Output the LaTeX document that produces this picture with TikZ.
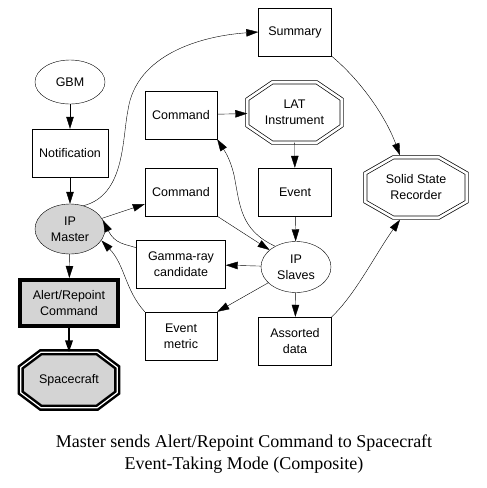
\documentclass[tikz,border=0pt]{standalone}
\usepackage{fontspec}
\setmainfont{Liberation Serif}
\newfontfamily\boxfont{Liberation Sans}
\usetikzlibrary{shapes.geometric,arrows.meta,calc,backgrounds}

\tikzset{
  box/.style={draw, rectangle, minimum width=72pt, minimum height=48pt, inner sep=0pt, align=center},
  oval/.style={draw, ellipse, minimum width=70pt, minimum height=50pt, inner sep=0pt, align=center},
  octbox/.style={rectangle, inner sep=0pt, align=center},
  octline/.style={double, double distance=2.6pt, line width=0.7pt},
  tip/.style={-{Triangle[length=12pt,width=7.5pt]}},
}
% octagon round a node: name, chamfer x, chamfer y, style
\newcommand\octagon[4]{%
  \draw[#4] ($(#1.north west)+(#2,0)$) -- ($(#1.north east)+(-#2,0)$)
    -- ($(#1.north east)+(0,#3)$) -- ($(#1.south east)+(0,-#3)$)
    -- ($(#1.south east)+(-#2,0)$) -- ($(#1.south west)+(#2,0)$)
    -- ($(#1.south west)+(0,-#3)$) -- ($(#1.north west)+(0,#3)$) -- cycle;}

\begin{document}
\begin{tikzpicture}[x=1pt, y=-1pt, font=\boxfont\fontsize{12.5}{16}\selectfont]
  \useasboundingbox (0,0) rectangle (487,488);

  \node[oval, minimum height=44pt] (gbm) at (70,82) {GBM};
  \node[box, minimum width=76pt] (notif) at (70,153) {Notification};
  \node[oval, fill=black!17] (master) at (70,229) {IP\\Master};
  \node[box, minimum width=98pt, minimum height=46pt, line width=4pt, fill=black!17] (alert) at (69,303) {Alert/Repoint\\Command};
  \node[octbox, minimum width=96pt, minimum height=55pt] (craft) at (69,380) {Spacecraft};

  \node[box] (cmdA) at (181,115) {Command};
  \node[box] (cmdB) at (181,192) {Command};
  \node[box, minimum width=89pt] (gamma) at (181,264) {Gamma-ray\\candidate};
  \node[box] (metric) at (181,336) {Event\\metric};

  \node[box, minimum width=73pt] (summary) at (295,32) {Summary};
  \node[octbox, minimum width=94pt, minimum height=60pt] (lat) at (294.5,112.5) {LAT\\Instrument};
  \node[box, minimum width=73pt] (event) at (295,192) {Event};
  \node[oval, minimum height=51pt] (slaves) at (296,267) {IP\\Slaves};
  \node[box, minimum width=73pt] (assorted) at (295,341) {Assorted\\data};
  \node[octbox, minimum width=101pt, minimum height=60pt] (ssr) at (416,187.5) {Solid State\\Recorder};

  \begin{pgfonlayer}{background}
    \octagon{lat}{25}{17}{octline}
    \octagon{ssr}{28}{16}{octline}
    \octagon{craft}{20}{15}{octline, fill=black!17, line width=2.5pt, double distance=1.2pt}
  \end{pgfonlayer}

  \draw[tip] (gbm) -- (notif);
  \draw[tip] (notif) -- (master);
  \draw[tip] (master) -- (alert);
  \draw[tip, line width=2pt] (alert) -- (craft);
  \draw[tip] (master) -- (cmdB);
  \draw[tip] (master.60) .. controls (125,195) and (122,140) .. (128,110)
    .. controls (136,55) and (200,36) .. (summary.west);
  \draw[tip] (cmdA) -- (lat);
  \draw[tip] (lat) -- (event);
  \draw[tip] (event) -- (slaves);
  \draw[tip] (cmdB.south east) -- (slaves);
  \draw[tip] (slaves.135) .. controls (240,230) and (240,205) .. (234,175)
    .. controls (230,158) and (224,150) .. (cmdA.south east);
  \draw[tip] (slaves) -- (gamma);
  \draw[tip] (slaves) -- (metric.north east);
  \draw[tip] (slaves) -- (assorted);
  \draw[tip] (gamma.160) .. controls (125,244) and (115,244) .. (master.15);
  \draw[tip] (metric.north west) .. controls (125,290) and (125,265) .. (master.-20);
  \draw[tip] (summary.south east) .. controls (360,80) and (385,115) .. ($(ssr.north)+(-16,-2)$);
  \draw[tip] (assorted.north east) .. controls (355,295) and (375,255) .. ($(ssr.south)+(-16,2)$);

  \node[font=\fontsize{18}{22}\selectfont, align=center] (caption) at (244,454)
    {Master sends Alert/Repoint Command to Spacecraft\\Event-Taking Mode (Composite)};
\end{tikzpicture}
\end{document}
